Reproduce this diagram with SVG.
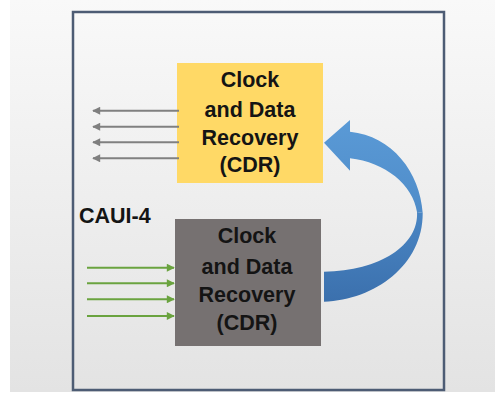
<svg xmlns="http://www.w3.org/2000/svg" width="495" height="393" viewBox="0 0 495 393">
  <defs>
    <linearGradient id="bg" x1="0" y1="0" x2="0" y2="1">
      <stop offset="0" stop-color="#f9f9f9"/>
      <stop offset="1" stop-color="#e3e3e3"/>
    </linearGradient>
    <linearGradient id="blueUp" x1="0" y1="0" x2="0" y2="1">
      <stop offset="0" stop-color="#5a9ad6"/>
      <stop offset="1" stop-color="#4f8cc9"/>
    </linearGradient>
    <linearGradient id="blueDown" x1="0" y1="0" x2="0" y2="1">
      <stop offset="0" stop-color="#4a86c4"/>
      <stop offset="1" stop-color="#3b70ad"/>
    </linearGradient>
    <marker id="grayHead" viewBox="0 0 10 10" refX="9" refY="5" markerWidth="4.5" markerHeight="4" orient="auto" markerUnits="strokeWidth">
      <path d="M0,0 L10,5 L0,10 Z" fill="#7f7f7f"/>
    </marker>
    <marker id="greenHead" viewBox="0 0 10 10" refX="9" refY="5" markerWidth="4.5" markerHeight="4" orient="auto" markerUnits="strokeWidth">
      <path d="M0,0 L10,5 L0,10 Z" fill="#6aa33f"/>
    </marker>
  </defs>
  <style>
    .lbl { font-family: "Liberation Sans", Arial, sans-serif; font-weight: bold; font-size: 21.5px; text-anchor: middle; fill: #141414; }
    .gray { stroke: #808080; stroke-width: 2; fill: none; }
    .green { stroke: #6aa33f; stroke-width: 2; fill: none; }
  </style>
  <rect x="10" y="0" width="485" height="392" fill="url(#bg)"/>
  <g id="frame">
    <rect x="73" y="12" width="371" height="378" fill="none" stroke="#4d5c74" stroke-width="2.5"/>
  </g>
  <g id="caui4">
    <text x="79" y="223" style="font-family: 'Liberation Sans', Arial, sans-serif; font-weight: bold; font-size: 21.5px; fill: #141414;">CAUI-4</text>
  </g>
  <g id="cdr-top">
    <rect x="177" y="63" width="146" height="120" fill="#ffd966"/>
    <text class="lbl" x="250" y="87">Clock</text>
    <text class="lbl" x="250" y="117">and Data</text>
    <text class="lbl" x="250" y="145">Recovery</text>
    <text class="lbl" x="250" y="172">(CDR)</text>
  </g>
  <g id="cdr-bottom">
    <rect x="175" y="219" width="146" height="127" fill="#767171"/>
    <text class="lbl" x="247" y="243">Clock</text>
    <text class="lbl" x="247" y="274">and Data</text>
    <text class="lbl" x="247" y="302">Recovery</text>
    <text class="lbl" x="247" y="330">(CDR)</text>
  </g>
  <g id="connectors">
    <line class="gray" x1="179" y1="110.7" x2="93" y2="110.7" marker-end="url(#grayHead)"/>
    <line class="gray" x1="179" y1="126.7" x2="93" y2="126.7" marker-end="url(#grayHead)"/>
    <line class="gray" x1="179" y1="142.3" x2="93" y2="142.3" marker-end="url(#grayHead)"/>
    <line class="gray" x1="179" y1="158.3" x2="93" y2="158.3" marker-end="url(#grayHead)"/>
    <line class="green" x1="87" y1="267.7" x2="174" y2="267.7" marker-end="url(#greenHead)"/>
    <line class="green" x1="87" y1="283.3" x2="174" y2="283.3" marker-end="url(#greenHead)"/>
    <line class="green" x1="87" y1="299.3" x2="174" y2="299.3" marker-end="url(#greenHead)"/>
    <line class="green" x1="87" y1="316" x2="174" y2="316" marker-end="url(#greenHead)"/>
    <g id="loop-arrow">
      <path d="M417,212 C419,245 380,271 324,271.7 L324,301.7 C375,300 423,265 422.7,213 Z" fill="url(#blueDown)"/>
      <path d="M350,120 L324,142.7 L350,170.7 L350,158.3 C385,162 413,185 417,212 L422.7,213 C420,172 392,136 350,131.7 Z" fill="url(#blueUp)"/>
    </g>
  </g>
</svg>
